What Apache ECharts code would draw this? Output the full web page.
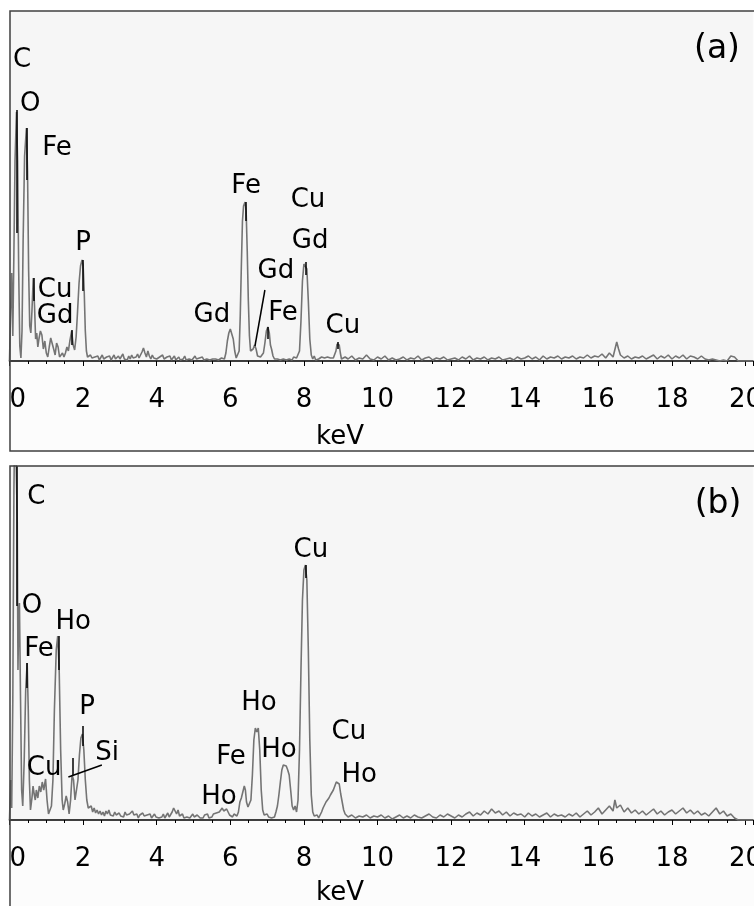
<!DOCTYPE html>
<html>
<head>
<meta charset="utf-8">
<script src="https://cdn.jsdelivr.net/npm/echarts@6/dist/echarts.min.js"></script>
<style>html,body{margin:0;padding:0;background:#fff}#c{width:754px;height:906px}</style>
</head>
<body>
<div id="c"></div>
<script>
// ---------- DATA ----------
// x tick labels (keV)
const tickLabels = [0, 2, 4, 6, 8, 10, 12, 14, 16, 18, 20];

// Spectrum (a): [keV, counts]
const spectrumA = [
[0.00,0],[0.03,50],[0.06,88],[0.09,25],[0.12,110],[0.15,200],[0.19,249],[0.22,200],[0.25,90],[0.28,15],
[0.31,3],[0.34,30],[0.37,120],[0.41,205],[0.46,233],[0.49,190],[0.52,90],[0.55,35],[0.58,28],[0.61,50],
[0.645,83],[0.68,55],[0.71,22],[0.74,28],[0.77,14],[0.80,22],[0.84,30],[0.88,26],[0.92,12],[0.96,20],
[1.00,8],[1.04,4],[1.08,14],[1.12,23],[1.16,24],[1.20,12],[1.24,6],[1.28,18],[1.32,14],[1.36,4],
[1.40,6],[1.44,8],[1.48,4],[1.52,8],[1.56,14],[1.60,10],[1.64,20],[1.69,30],[1.73,16],[1.77,11],
[1.81,24],[1.85,50],[1.89,78],[1.93,95],[1.97,101],[2.00,96],[2.03,70],[2.06,30],[2.09,10],[2.12,4],
[2.16,2],[2.20,6],[2.24,3],[2.28,1],[2.32,4],[2.36,2],[2.40,5],[2.44,1],[2.48,2],[2.52,6],
[2.56,2],[2.60,1],[2.64,4],[2.68,2],[2.72,5],[2.76,1],[2.80,3],[2.84,6],[2.88,2],[2.92,1],
[2.96,5],[3.00,2],[3.04,3],[3.08,7],[3.12,2],[3.16,4],[3.20,1],[3.24,5],[3.28,2],[3.32,6],
[3.36,3],[3.40,1],[3.44,4],[3.48,7],[3.52,3],[3.56,5],[3.60,9],[3.64,13],[3.68,8],[3.72,4],
[3.76,10],[3.80,5],[3.84,2],[3.88,6],[3.92,3],[3.96,5],[4.00,2],[4.04,1],[4.08,4],[4.12,2],
[4.16,6],[4.20,2],[4.24,1],[4.28,4],[4.32,2],[4.36,5],[4.40,1],[4.44,3],[4.48,5],[4.52,1],
[4.56,2],[4.60,4],[4.64,1],[4.68,3],[4.72,2],[4.76,5],[4.80,1],[4.84,3],[4.88,2],[4.92,4],
[4.96,1],[5.00,2],[5.04,5],[5.08,2],[5.12,1],[5.16,3],[5.20,2],[5.24,4],[5.28,1],[5.32,3],
[5.36,2],[5.40,4],[5.44,1],[5.48,3],[5.52,2],[5.56,4],[5.60,2],[5.64,3],[5.68,1],[5.72,2],
[5.76,3],[5.80,2],[5.84,2],[5.88,8],[5.92,20],[5.96,28],[6.00,32],[6.04,31],[6.08,22],[6.12,10],
[6.16,3],[6.20,1],[6.24,10],[6.27,45],[6.30,95],[6.33,140],[6.36,155],[6.40,159],[6.43,150],[6.46,110],
[6.49,60],[6.52,25],[6.55,10],[6.58,8],[6.62,12],[6.66,16],[6.70,12],[6.74,5],[6.78,3],[6.82,4],
[6.86,3],[6.90,8],[6.94,18],[6.98,30],[7.02,34],[7.06,28],[7.09,16],[7.12,12],[7.16,5],[7.20,2],
[7.24,4],[7.28,2],[7.32,3],[7.36,1],[7.40,3],[7.44,2],[7.48,4],[7.52,1],[7.56,3],[7.60,2],
[7.64,3],[7.68,1],[7.72,4],[7.76,2],[7.80,3],[7.84,2],[7.88,10],[7.92,40],[7.96,80],[8.00,97],
[8.04,99],[8.08,92],[8.12,60],[8.16,22],[8.20,6],[8.24,2],[8.28,5],[8.32,1],[8.36,3],[8.40,2],
[8.44,1],[8.48,4],[8.52,2],[8.56,3],[8.60,1],[8.64,4],[8.68,2],[8.72,3],[8.76,1],[8.80,3],
[8.84,2],[8.87,10],[8.90,17],[8.93,19],[8.96,16],[8.99,8],[9.02,2],[9.06,1],[9.12,4],[9.20,2],
[9.30,5],[9.40,1],[9.50,3],[9.60,2],[9.70,6],[9.80,2],[9.90,1],[10.0,4],[10.1,2],[10.2,5],
[10.3,1],[10.4,3],[10.5,1],[10.6,2],[10.7,4],[10.8,1],[10.9,3],[11.0,2],[11.1,5],[11.2,1],
[11.3,3],[11.4,4],[11.5,1],[11.6,3],[11.7,2],[11.8,4],[11.9,1],[12.0,2],[12.1,3],[12.2,1],
[12.3,4],[12.4,2],[12.5,5],[12.6,1],[12.7,3],[12.8,2],[12.9,4],[13.0,1],[13.1,3],[13.2,2],
[13.3,4],[13.4,1],[13.5,2],[13.6,3],[13.7,1],[13.8,4],[13.9,2],[14.0,3],[14.1,5],[14.2,2],
[14.3,4],[14.4,1],[14.5,5],[14.6,2],[14.7,4],[14.8,3],[14.9,5],[15.0,2],[15.1,4],[15.2,3],
[15.3,5],[15.4,2],[15.5,4],[15.6,3],[15.7,6],[15.8,3],[15.9,5],[16.0,4],[16.1,7],[16.2,3],
[16.3,8],[16.4,4],[16.5,19],[16.55,12],[16.6,6],[16.7,3],[16.8,5],[16.9,2],[17.0,4],[17.1,3],
[17.2,5],[17.3,2],[17.4,4],[17.5,6],[17.6,2],[17.7,5],[17.8,3],[17.9,6],[18.0,2],[18.1,5],
[18.2,3],[18.3,6],[18.4,2],[18.5,5],[18.6,4],[18.7,2],[18.8,5],[18.9,2],[19.0,1],[19.1,2],
[19.2,1],[19.3,0],[19.4,1],[19.5,0],[19.6,5],[19.7,4],[19.8,0],[20.2,0]
];

// Spectrum (b): [keV, counts]
const spectrumB = [
[0.00,0],[0.03,40],[0.06,12],[0.09,120],[0.12,330],[0.15,420],[0.18,420],[0.21,300],[0.23,150],[0.25,200],
[0.27,217],[0.30,120],[0.33,30],[0.36,14],[0.40,60],[0.44,130],[0.48,157],[0.51,110],[0.54,40],[0.57,10],
[0.61,22],[0.64,34],[0.67,26],[0.70,20],[0.73,30],[0.77,22],[0.81,34],[0.85,28],[0.89,38],[0.93,30],
[0.98,41],[1.02,20],[1.06,6],[1.10,4],[1.14,14],[1.18,40],[1.22,110],[1.27,170],[1.31,184],[1.35,150],
[1.39,70],[1.43,20],[1.46,10],[1.50,16],[1.54,24],[1.58,18],[1.62,6],[1.66,20],[1.70,45],[1.74,40],
[1.78,20],[1.82,22],[1.86,40],[1.90,65],[1.94,82],[1.98,86],[2.02,70],[2.06,40],[2.10,20],[2.14,12],
[2.18,10],[2.22,14],[2.26,8],[2.30,12],[2.34,7],[2.38,10],[2.42,6],[2.46,9],[2.50,5],[2.54,8],
[2.58,4],[2.62,9],[2.66,6],[2.70,10],[2.74,5],[2.78,7],[2.82,4],[2.86,8],[2.90,5],[2.94,3],
[2.98,7],[3.02,4],[3.06,6],[3.10,3],[3.14,8],[3.18,5],[3.22,3],[3.26,6],[3.30,4],[3.34,9],
[3.38,5],[3.42,3],[3.46,6],[3.50,2],[3.54,5],[3.58,3],[3.62,7],[3.66,4],[3.70,2],[3.74,5],
[3.78,3],[3.82,6],[3.86,2],[3.90,4],[3.94,6],[3.98,3],[4.02,5],[4.06,2],[4.10,4],[4.14,3],
[4.18,6],[4.22,2],[4.26,4],[4.30,7],[4.34,3],[4.38,5],[4.42,8],[4.46,12],[4.50,9],[4.54,6],
[4.58,10],[4.62,4],[4.66,3],[4.70,6],[4.74,2],[4.78,4],[4.82,3],[4.86,5],[4.90,2],[4.94,4],
[4.98,6],[5.02,3],[5.06,2],[5.10,5],[5.14,3],[5.18,2],[5.22,4],[5.26,2],[5.30,5],[5.34,3],
[5.38,6],[5.42,2],[5.46,4],[5.50,3],[5.54,6],[5.58,4],[5.62,7],[5.66,5],[5.70,8],[5.74,10],
[5.78,12],[5.82,9],[5.86,7],[5.90,11],[5.94,8],[5.98,5],[6.02,4],[6.06,3],[6.10,6],[6.14,5],
[6.18,4],[6.22,8],[6.26,18],[6.30,22],[6.34,20],[6.38,34],[6.41,30],[6.44,18],[6.48,13],[6.52,14],
[6.56,20],[6.60,45],[6.64,80],[6.68,92],[6.72,88],[6.76,92],[6.80,70],[6.84,30],[6.88,10],[6.92,5],
[6.96,4],[7.00,6],[7.04,3],[7.08,5],[7.12,2],[7.16,4],[7.20,3],[7.24,8],[7.28,14],[7.32,25],
[7.36,38],[7.40,50],[7.44,55],[7.48,57],[7.52,54],[7.56,50],[7.60,45],[7.64,30],[7.68,14],[7.72,10],
[7.76,14],[7.80,8],[7.84,20],[7.88,70],[7.92,150],[7.96,220],[8.00,250],[8.04,255],[8.08,240],[8.12,170],
[8.16,80],[8.20,25],[8.24,8],[8.28,4],[8.32,3],[8.36,5],[8.40,2],[8.44,4],[8.48,8],[8.52,12],
[8.56,14],[8.60,18],[8.64,20],[8.68,22],[8.72,25],[8.76,27],[8.80,30],[8.84,34],[8.88,38],[8.92,40],
[8.96,36],[9.00,26],[9.04,18],[9.08,10],[9.12,6],[9.16,4],[9.20,3],[9.30,5],[9.40,2],[9.50,4],
[9.60,3],[9.70,5],[9.80,2],[9.90,4],[10.0,3],[10.1,5],[10.2,2],[10.3,4],[10.4,1],[10.5,3],
[10.6,5],[10.7,2],[10.8,4],[10.9,2],[11.0,5],[11.1,3],[11.2,2],[11.3,4],[11.4,6],[11.5,3],
[11.6,2],[11.7,5],[11.8,3],[11.9,6],[12.0,4],[12.1,2],[12.2,5],[12.3,3],[12.4,6],[12.5,8],
[12.6,4],[12.7,7],[12.8,5],[12.9,9],[13.0,6],[13.1,11],[13.2,7],[13.3,9],[13.4,5],[13.5,8],
[13.6,4],[13.7,7],[13.8,5],[13.9,6],[14.0,3],[14.1,7],[14.2,4],[14.3,6],[14.4,3],[14.5,5],
[14.6,7],[14.7,3],[14.8,6],[14.9,4],[15.0,5],[15.1,3],[15.2,6],[15.3,4],[15.4,7],[15.5,3],
[15.6,6],[15.7,9],[15.8,5],[15.9,8],[16.0,12],[16.1,6],[16.2,10],[16.3,14],[16.4,9],[16.45,20],
[16.5,12],[16.6,15],[16.7,8],[16.8,12],[16.9,7],[17.0,10],[17.1,6],[17.2,9],[17.3,5],[17.4,8],
[17.5,11],[17.6,6],[17.7,9],[17.8,5],[17.9,8],[18.0,10],[18.1,6],[18.2,9],[18.3,12],[18.4,7],
[18.5,10],[18.6,6],[18.7,9],[18.8,5],[18.9,7],[19.0,4],[19.1,8],[19.2,12],[19.3,6],[19.4,9],
[19.5,4],[19.6,6],[19.7,2],[19.8,0],[20.2,0]
];

// Element labels: [text, keV, counts]
const labelsA = [
["C",0.34,301],["O",0.56,257],["Fe",1.29,213],["Cu",1.24,71],["Gd",1.24,45],["P",2.0,118],
["Gd",5.50,46],["Fe",6.43,175],["Cu",8.11,161],["Gd",8.17,120],["Gd",7.24,90],["Fe",7.43,48],["Cu",9.06,35]
];
const labelsB = [
["C",0.73,323],["O",0.61,214],["Ho",1.73,198],["Fe",0.80,171],["P",2.11,113],["Si",2.65,67],["Cu",0.94,52],
["Ho",6.78,117],["Fe",6.02,63],["Ho",5.69,23],["Ho",7.32,70],["Cu",8.19,270],["Cu",9.22,88],["Ho",9.50,45]
];

// Peak marker segments: [keV1, counts1, keV2, counts2]
const markersA = [
[0.196,251,0.196,128],[0.47,233,0.47,181],[0.647,83,0.647,60],[1.69,31,1.69,16],[2.0,101,2.0,70],
[6.42,159,6.42,140],[7.02,34,7.02,22],[8.05,99,8.05,86],[8.93,19,8.93,12],[6.94,71,6.67,15]
];
const markersB = [
[0.21,354,0.21,214],[0.48,157,0.48,132],[1.34,184,1.34,150],[1.72,62,1.72,45],[2.0,94,2.0,74],
[1.60,43,2.51,55],[8.05,255,8.05,242]
];

// ---------- CHART ----------
const FONT = 'DejaVu Sans';
const chart = echarts.init(document.getElementById('c'), null, {renderer: 'canvas'});

function xAxisCfg(gridIndex) {
  return {
    type: 'value', gridIndex, min: 0, max: 20.2, interval: 2,
    axisLine: {show: true, lineStyle: {color: '#000', width: 1.6}},
    axisTick: {show: true, length: 5, lineStyle: {color: '#000', width: 1}},
    minorTick: {show: true, splitNumber: 4, length: 3, lineStyle: {color: '#000', width: 1}},
    splitLine: {show: false},
    axisLabel: {
      color: '#000', fontFamily: FONT, fontSize: 26, margin: 26,
      alignMinLabel: 'left', hideOverlap: false,
      formatter: v => (tickLabels.indexOf(Math.round(v * 1000) / 1000) >= 0 ? String(v) : '')
    }
  };
}
function yAxisCfg(gridIndex, max) {
  return {type: 'value', gridIndex, min: 0, max, show: false};
}
function markLineData(list) {
  return list.map(m => [{coord: [m[0], m[1]]}, {coord: [m[2], m[3]]}]);
}
function labelSeries(list, idx) {
  return {
    type: 'scatter', xAxisIndex: idx, yAxisIndex: idx, symbol: 'circle', symbolSize: 1,
    itemStyle: {color: 'rgba(0,0,0,0)', opacity: 1}, silent: true, z: 5,
    label: {show: true, position: 'inside', formatter: p => p.name, color: '#000', opacity: 1, fontFamily: FONT, fontSize: 26},
    labelLayout: {hideOverlap: false},
    data: list.map(l => ({name: l[0], value: [l[1], l[2]]}))
  };
}
function specSeries(data, idx, markers) {
  return {
    type: 'line', xAxisIndex: idx, yAxisIndex: idx, data, showSymbol: false, symbol: 'none',
    clip: true, animation: false,
    lineStyle: {color: '#747474', width: 1.6}, z: 3,
    markLine: {
      silent: true, symbol: ['none', 'none'], animation: false,
      label: {show: false},
      lineStyle: {color: '#000', width: 1.5, type: 'solid'},
      data: markLineData(markers)
    }
  };
}

const option = {
  animation: false,
  backgroundColor: '#ffffff',
  grid: [
    {left: 9.5, top: 11, width: 743.4, height: 350, show: true, backgroundColor: '#f6f6f6', borderWidth: 0, outerBoundsMode: 'none', containLabel: false},
    {left: 9.5, top: 466, width: 743.4, height: 354, show: true, backgroundColor: '#f6f6f6', borderWidth: 0, outerBoundsMode: 'none', containLabel: false}
  ],
  xAxis: [xAxisCfg(0), xAxisCfg(1)],
  yAxis: [yAxisCfg(0, 350), yAxisCfg(1, 354)],
  series: [
    specSeries(spectrumA, 0, markersA),
    specSeries(spectrumB, 1, markersB),
    labelSeries(labelsA, 0),
    labelSeries(labelsB, 1)
  ],
  graphic: [
    {type: 'rect', z: -10, shape: {x: 10, y: 11, width: 760, height: 440}, style: {fill: '#fcfcfc'}},
    {type: 'rect', z: -10, shape: {x: 10, y: 466, width: 760, height: 460}, style: {fill: '#fcfcfc'}},
    {type: 'rect', z: 100, shape: {x: 10, y: 11, width: 760, height: 440}, style: {fill: 'none', stroke: '#404040', lineWidth: 1.5}},
    {type: 'rect', z: 100, shape: {x: 10, y: 466, width: 760, height: 460}, style: {fill: 'none', stroke: '#404040', lineWidth: 1.5}},
    {type: 'text', z: 100, x: 717, y: 49, style: {text: '(a)', font: '33px "DejaVu Sans"', fill: '#000', align: 'center', verticalAlign: 'middle'}},
    {type: 'text', z: 100, x: 718, y: 504, style: {text: '(b)', font: '33px "DejaVu Sans"', fill: '#000', align: 'center', verticalAlign: 'middle'}},
    {type: 'text', z: 100, x: 340, y: 437, style: {text: 'keV', font: '26px "DejaVu Sans"', fill: '#000', align: 'center', verticalAlign: 'middle'}},
    {type: 'text', z: 100, x: 340, y: 893, style: {text: 'keV', font: '26px "DejaVu Sans"', fill: '#000', align: 'center', verticalAlign: 'middle'}}
  ]
};
chart.setOption(option);
</script>
</body>
</html>
